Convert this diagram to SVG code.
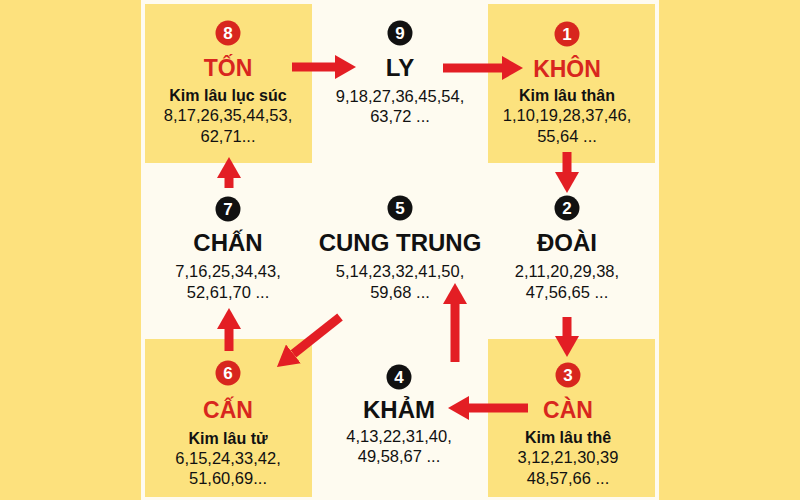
<svg xmlns="http://www.w3.org/2000/svg" width="800" height="500" viewBox="0 0 800 500">
<defs>
<marker id="ah" markerUnits="userSpaceOnUse" markerWidth="22" markerHeight="24" refX="0" refY="12" orient="auto">
<path d="M0,0 L21,12 L0,24 z" fill="#E31E24"/>
</marker>
</defs>
<style>
.bg{fill:#FDE17D}
.panel{fill:#FEFBF0}
.box{fill:#FCE27E}
text{font-family:"Liberation Sans",Arial,sans-serif;text-anchor:middle}
.title{font-size:24px;font-weight:bold;fill:#111}
.rtitle{font-size:23px;font-weight:bold;fill:#D8261E}
.sub{font-size:16px;font-weight:bold;fill:#111}
.num{font-size:16.5px;fill:#111}
.cr{fill:#D8261E}
.cb{fill:#111}
.cn{font-size:17px;font-weight:bold;fill:#fff}
.arr{stroke:#E31E24;stroke-width:9;fill:none;marker-end:url(#ah)}
</style>
<rect class="bg" x="0" y="0" width="800" height="500"/>
<rect class="panel" x="141" y="0" width="518" height="500"/>
<g id="node-ton">
<rect class="box" x="145" y="4" width="167" height="159"/>
<circle class="cr" cx="228" cy="33" r="12.5"/>
<text class="cn" x="228" y="39">8</text>
<text class="rtitle" x="228" y="76">TỐN</text>
<text class="sub" x="228" y="101">Kim lâu lục súc</text>
<text class="num" x="228" y="121">8,17,26,35,44,53,</text>
<text class="num" x="228" y="142">62,71...</text>
</g>
<g id="node-ly">
<circle class="cb" cx="400" cy="33" r="12.5"/>
<text class="cn" x="400" y="39">9</text>
<text class="title" x="400" y="76">LY</text>
<text class="num" x="400" y="102">9,18,27,36,45,54,</text>
<text class="num" x="400" y="122">63,72 ...</text>
</g>
<g id="node-khon">
<rect class="box" x="488" y="4" width="167" height="159"/>
<circle class="cr" cx="567" cy="34" r="12.5"/>
<text class="cn" x="567" y="40">1</text>
<text class="rtitle" x="567" y="77">KHÔN</text>
<text class="sub" x="567" y="101">Kim lâu thân</text>
<text class="num" x="567" y="121">1,10,19,28,37,46,</text>
<text class="num" x="567" y="142">55,64 ...</text>
</g>
<g id="node-chan">
<circle class="cb" cx="228" cy="209" r="12.5"/>
<text class="cn" x="228" y="215">7</text>
<text class="title" x="228" y="251">CHẤN</text>
<text class="num" x="228" y="277">7,16,25,34,43,</text>
<text class="num" x="228" y="298">52,61,70 ...</text>
</g>
<g id="node-cung-trung">
<circle class="cb" cx="400" cy="208" r="12.5"/>
<text class="cn" x="400" y="214">5</text>
<text class="title" x="400" y="251">CUNG TRUNG</text>
<text class="num" x="400" y="277">5,14,23,32,41,50,</text>
<text class="num" x="400" y="298">59,68 ...</text>
</g>
<g id="node-doai">
<circle class="cb" cx="567" cy="208" r="12.5"/>
<text class="cn" x="567" y="214">2</text>
<text class="title" x="567" y="251">ĐOÀI</text>
<text class="num" x="567" y="277">2,11,20,29,38,</text>
<text class="num" x="567" y="298">47,56,65 ...</text>
</g>
<g id="node-can6">
<rect class="box" x="145" y="339" width="167" height="158"/>
<circle class="cr" cx="228" cy="373" r="12.5"/>
<text class="cn" x="228" y="379">6</text>
<text class="rtitle" x="228" y="418">CẤN</text>
<text class="sub" x="228" y="444">Kim lâu tử</text>
<text class="num" x="228" y="464">6,15,24,33,42,</text>
<text class="num" x="228" y="484">51,60,69...</text>
</g>
<g id="node-kham">
<circle class="cb" cx="399" cy="377" r="12.5"/>
<text class="cn" x="399" y="383">4</text>
<text class="title" x="399" y="418">KHẢM</text>
<text class="num" x="399" y="442">4,13,22,31,40,</text>
<text class="num" x="399" y="462">49,58,67 ...</text>
</g>
<g id="node-can3">
<rect class="box" x="488" y="339" width="167" height="158"/>
<circle class="cr" cx="568" cy="375" r="12.5"/>
<text class="cn" x="568" y="381">3</text>
<text class="rtitle" x="568" y="418">CÀN</text>
<text class="sub" x="568" y="443">Kim lâu thê</text>
<text class="num" x="568" y="463">3,12,21,30,39</text>
<text class="num" x="568" y="484">48,57,66 ...</text>
</g>
<g id="connectors">
<line class="arr" x1="292" y1="67" x2="335" y2="67"/>
<line class="arr" x1="443" y1="68" x2="502" y2="68"/>
<line class="arr" x1="567" y1="152" x2="567" y2="172"/>
<line class="arr" x1="567" y1="317" x2="567" y2="336"/>
<line class="arr" x1="528" y1="408" x2="469" y2="408"/>
<line class="arr" x1="455" y1="362" x2="455" y2="304"/>
<line class="arr" x1="340" y1="317" x2="293.4" y2="353.9"/>
<line class="arr" x1="229" y1="351" x2="229" y2="329"/>
<line class="arr" x1="229" y1="188" x2="229" y2="178"/>
</g>
</svg>
